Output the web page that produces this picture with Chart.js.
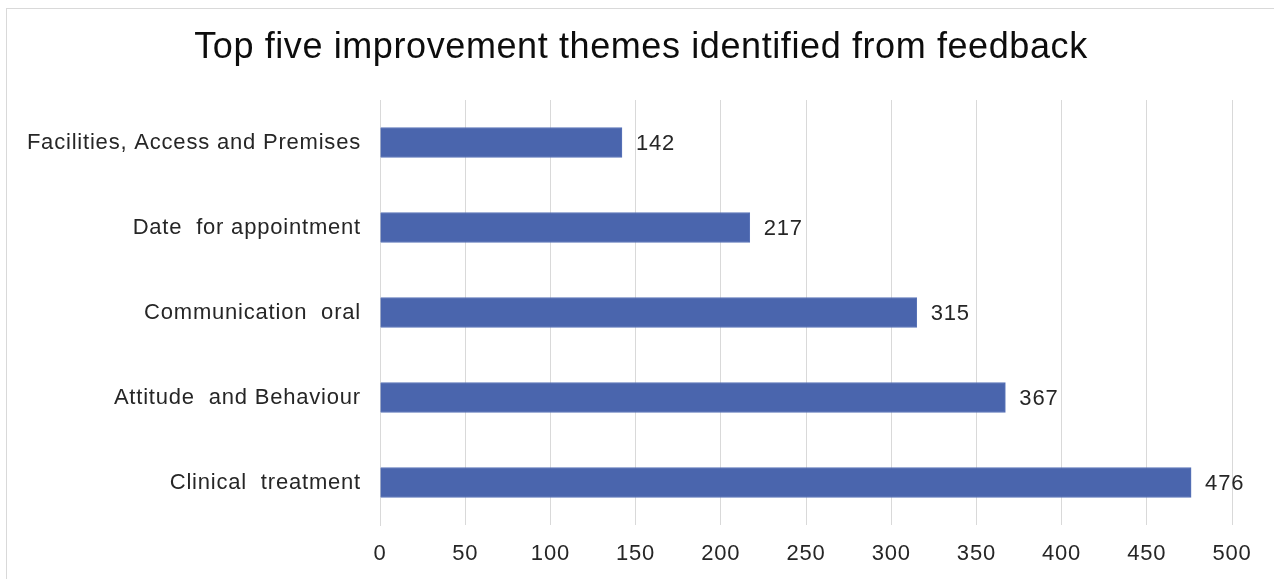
<!DOCTYPE html>
<html>
<head>
<meta charset="utf-8">
<script src="https://cdn.jsdelivr.net/npm/chart.js@4"></script>
<style>
  html, body { margin: 0; padding: 0; background: #fff; }
  #wrap { position: relative; width: 1274px; height: 579px; overflow: hidden; }
  #frame { position: absolute; left: 6px; top: 8px; width: 1300px; height: 600px; border: 1px solid #d9d9d9; }
  canvas { position: absolute; left: 0; top: 0; }
</style>
</head>
<body>
<div id="wrap">
  <div id="frame"></div>
  <canvas id="chart" width="1274" height="579"></canvas>
</div>
<script>
const chartTitle = "Top five improvement themes identified from feedback";
const categories = [
  "Facilities, Access and Premises",
  "Date  for appointment",
  "Communication  oral",
  "Attitude  and Behaviour",
  "Clinical  treatment",
];
const counts = [142, 217, 315, 367, 476];
const xTicks = [0, 50, 100, 150, 200, 250, 300, 350, 400, 450, 500];

const FONT = "'Liberation Sans', Arial, sans-serif";
const TEXT = "#262626";

// the reference text is set a little looser than canvas Arial
const spacing = {
  id: "spacing",
  beforeUpdate(chart) { chart.ctx.letterSpacing = "0.8px"; },
  beforeDraw(chart) { chart.ctx.letterSpacing = "0.8px"; },
};

// title centred on the whole canvas, above the plot
const titleText = {
  id: "titleText",
  afterDraw(chart) {
    const ctx = chart.ctx;
    ctx.save();
    ctx.letterSpacing = "0.6px";
    ctx.font = `36px ${FONT}`;
    ctx.fillStyle = "#0d0d0d";
    ctx.textAlign = "center";
    ctx.textBaseline = "middle";
    ctx.fillText(chartTitle, 641, 48);
    ctx.restore();
  },
};

// value labels at the end of each bar
const barValues = {
  id: "barValues",
  afterDatasetsDraw(chart) {
    const ctx = chart.ctx;
    const meta = chart.getDatasetMeta(0);
    ctx.save();
    ctx.font = `22px ${FONT}`;
    ctx.fillStyle = TEXT;
    ctx.textAlign = "left";
    ctx.textBaseline = "middle";
    meta.data.forEach((bar, i) => {
      ctx.fillText(String(counts[i]), bar.x + 14, bar.y + 1);
    });
    ctx.restore();
  },
};

new Chart(document.getElementById("chart"), {
  type: "bar",
  data: {
    labels: categories,
    datasets: [
      {
        data: counts,
        backgroundColor: "#4a65ad",
        borderColor: "#5a74b8",
        borderWidth: 1,
        barThickness: 30,
      },
    ],
  },
  options: {
    indexAxis: "y",
    responsive: false,
    animation: false,
    layout: { padding: { left: 0, right: 42, top: 100, bottom: 0 } },
    plugins: {
      legend: { display: false },
      tooltip: { enabled: false },
      title: { display: false },
    },
    scales: {
      x: {
        min: 0,
        max: 500,
        afterBuildTicks(scale) {
          scale.ticks = xTicks.map((v) => ({ value: v }));
        },
        afterFit(scale) {
          scale.height = 54;
        },
        grid: { color: "#d9d9d9", lineWidth: 1, drawTicks: false },
        border: { display: false },
        ticks: {
          color: TEXT,
          padding: 16,
          font: { family: FONT, size: 22 },
        },
      },
      y: {
        afterFit(scale) {
          scale.width = 380;
        },
        grid: { display: false },
        border: { display: true, color: "#d9d9d9" },
        ticks: {
          color: TEXT,
          padding: 11,
          font: { family: FONT, size: 22 },
        },
      },
    },
  },
  plugins: [spacing, barValues, titleText],
});
</script>
</body>
</html>
